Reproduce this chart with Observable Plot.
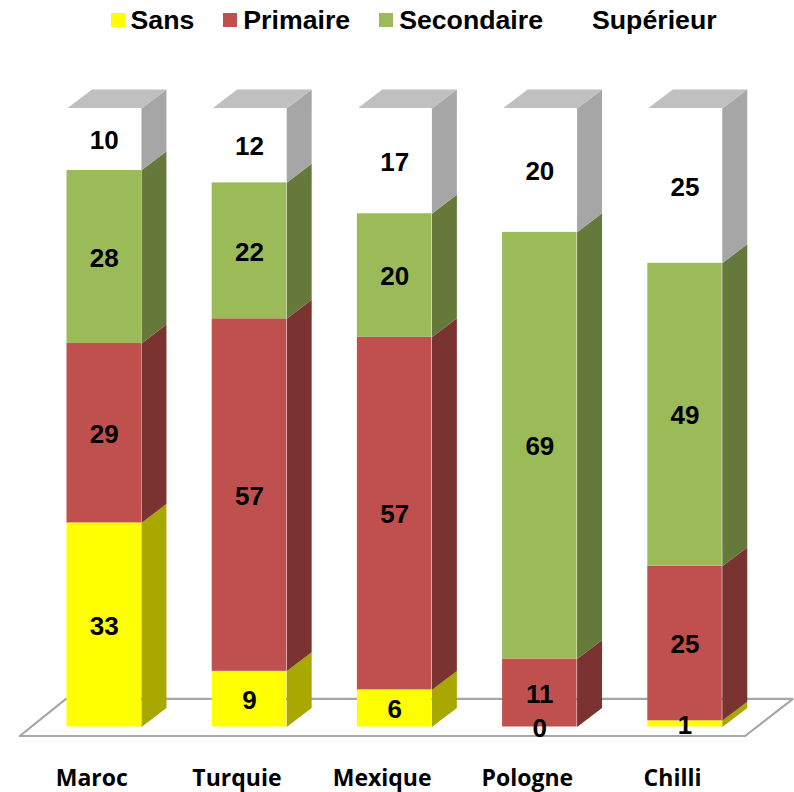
<!DOCTYPE html>
<html><head><meta charset="utf-8">
<script src="https://cdn.jsdelivr.net/npm/d3@7"></script>
<script src="https://cdn.jsdelivr.net/npm/@observablehq/plot@0.6"></script>
<style>
html,body{margin:0;padding:0;background:#fff;width:794px;height:792px;overflow:hidden}
#legend{height:40px;padding-left:110.5px;display:flex;align-items:flex-start;font:bold 26.7px "Liberation Sans",Arial,sans-serif;color:#000;box-sizing:border-box}
#legend .item{display:flex;align-items:center;margin-right:29px;height:40px;line-height:40px}
#legend .sw{width:14px;height:14px;margin-right:6px;flex:none}
svg{display:block}
</style></head><body>
<div id="legend"></div>
<div id="chart"></div>
<script>
const countries = ["Maroc","Turquie","Mexique","Pologne","Chilli"];
const levels = ["Sans","Primaire","Secondaire","Supérieur"];
const sans = [33,9,6,0,1];
const primaire = [29,57,57,11,25];
const secondaire = [28,22,20,69,49];
const superieur = [10,12,17,20,25];
const frontColors = ["#ffff00","#c0504d","#9bbb59","#ffffff"];
const sideColors = ["#a8a800","#7b3331","#65793a","#a6a6a6"];
const topColor = "#c0c0c0";

const series = [sans,primaire,secondaire,superieur];
const barW = 0.513, depthX = 0.172, depthY = 3.07;

const segments = [];
countries.forEach((country,i)=>{
  let base = 0;
  series.forEach((values,k)=>{
    segments.push({country,i,level:levels[k],value:values[i],y1:base,y2:base+values[i],k});
    base += values[i];
  });
});
const sidePolys = segments.filter(d=>d.value>0).flatMap(d=>{
  const x0=d.i+barW, x1=x0+depthX, key=d.country+d.level;
  return [[x0,d.y1],[x1,d.y1+depthY],[x1,d.y2+depthY],[x0,d.y2]].map(([x,y])=>({x,y,key,fill:sideColors[d.k]}));
});
const topPolys = countries.flatMap((c,i)=>{
  const a=i,b=i+barW;
  return [[a,100],[b,100],[b+depthX,100+depthY],[a+depthX,100+depthY]].map(([x,y])=>({x,y,key:c}));
});
const floorX = {fl:-0.325,fr:4.67,br:5.0,bl:-0.007}, floorY={front:-1.455,back:4.56};
const floor = [[floorX.fl,floorY.front],[floorX.fr,floorY.front],[floorX.br,floorY.back],[floorX.bl,floorY.back],[floorX.fl,floorY.front]].map(([x,y])=>({x,y}));

const font = '"Liberation Sans",Arial,sans-serif';
const chart = Plot.plot({
  width:794,height:752,margin:0,
  x:{type:"linear",domain:[0,1],range:[66.5,211.7],axis:null},
  y:{type:"linear",domain:[0,100],range:[686.5,68],axis:null},
  style:{background:"transparent",overflow:"visible"},
  marks:[
    Plot.line(floor,{x:"x",y:"y",stroke:"#a6a6a6",strokeWidth:2.2,fill:"#fff",curve:"linear",strokeLinejoin:"miter"}),
    Plot.line(sidePolys,{x:"x",y:"y",z:"key",fill:"fill",stroke:"none",curve:"linear"}),
    Plot.line(topPolys,{x:"x",y:"y",z:"key",fill:topColor,stroke:"none",curve:"linear"}),
    Plot.rect(segments,{x1:"i",x2:d=>d.i+barW,y1:"y1",y2:"y2",fill:d=>frontColors[d.k],inset:0}),
    Plot.text(segments,{x:d=>d.i+barW/2,y:d=>(d.y1+d.y2)/2,text:d=>String(d.value),dy:1.5,fontSize:26,fontWeight:"bold",fontFamily:font,fill:"#000"}),
    Plot.text(countries,{x:(d,i)=>i+barW/2,y:()=>-8.4,text:d=>d,dx:-12.5,fontSize:23,fontWeight:"bold",fontFamily:'"Open Sans",sans-serif',fill:"#000"})
  ]
});
document.getElementById("chart").appendChild(chart);
const legend = d3.select("#legend");
levels.forEach((l,k)=>{
  const it = legend.append("div").attr("class","item");
  it.append("span").attr("class","sw").style("background",frontColors[k]);
  it.append("span").text(l);
});
</script>
</body></html>
